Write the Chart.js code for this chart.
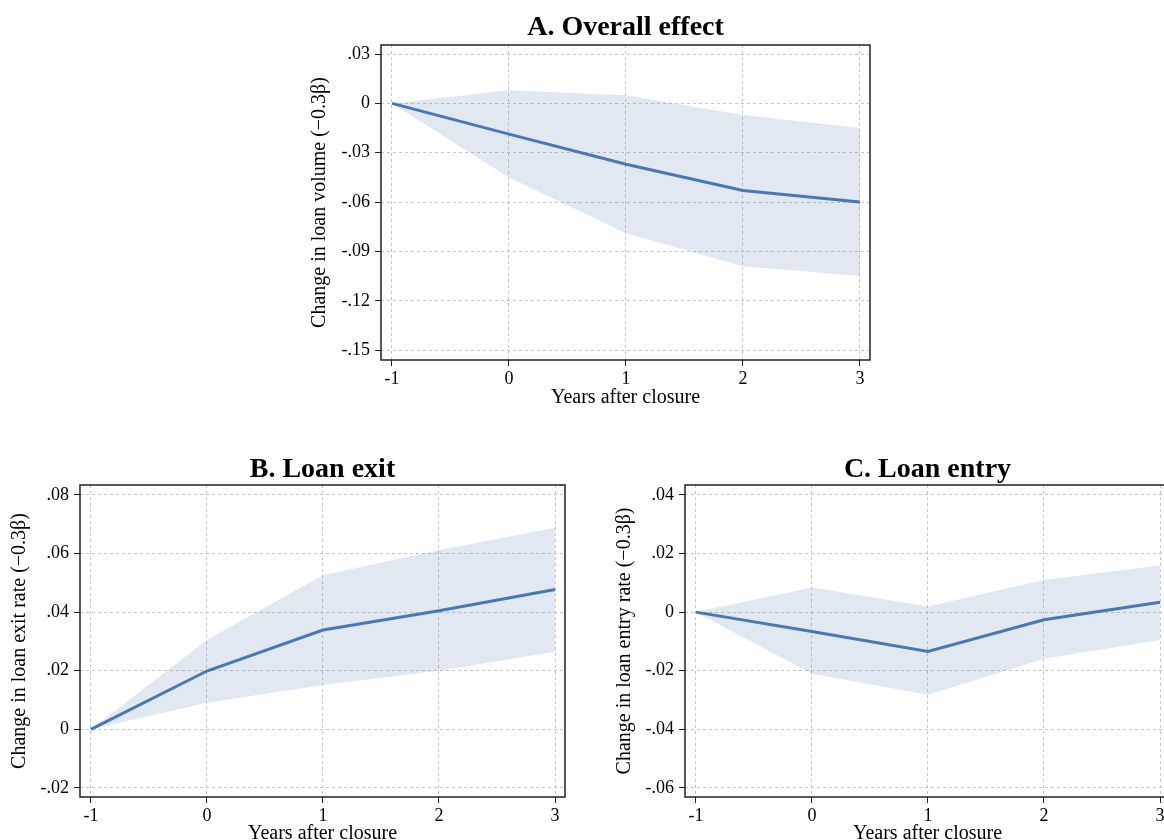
<!DOCTYPE html>
<html>
<head>
<meta charset="utf-8">
<script src="https://cdn.jsdelivr.net/npm/chart.js@4"></script>
<style>
  html, body { margin: 0; padding: 0; background: #fff; overflow: hidden; }
  body { width: 1164px; height: 840px; position: relative; }
  canvas { position: absolute; }
</style>
</head>
<body>
<canvas id="chart_a" width="580" height="410" style="left:300px;top:0px"></canvas>
<canvas id="chart_b" width="580" height="406" style="left:0px;top:440px"></canvas>
<canvas id="chart_c" width="580" height="406" style="left:600px;top:440px"></canvas>
<script>
// years relative to closure
const years = [-1, 0, 1, 2, 3];
const x_ticks = [-1, 0, 1, 2, 3];

// A. Overall effect
const a_est = [0, -0.0187, -0.037, -0.053, -0.060];
const a_upper = [0, 0.008, 0.005, -0.007, -0.015];
const a_lower = [0, -0.045, -0.079, -0.099, -0.105];
const a_y_ticks = [-0.15, -0.12, -0.09, -0.06, -0.03, 0, 0.03];
const a_y_labels = ['-.15', '-.12', '-.09', '-.06', '-.03', '0', '.03'];

// B. Loan exit
const b_est = [0, 0.0199, 0.0339, 0.0405, 0.0477];
const b_upper = [0, 0.0305, 0.0526, 0.0611, 0.0688];
const b_lower = [0, 0.0091, 0.0151, 0.020, 0.0265];
const b_y_ticks = [-0.02, 0, 0.02, 0.04, 0.06, 0.08];
const b_y_labels = ['-.02', '0', '.02', '.04', '.06', '.08'];

// C. Loan entry
const c_est = [0, -0.0066, -0.0134, -0.0026, 0.0034];
const c_upper = [0, 0.0084, 0.0019, 0.011, 0.0159];
const c_lower = [0, -0.021, -0.0282, -0.0159, -0.0095];
const c_y_ticks = [-0.06, -0.04, -0.02, 0, 0.02, 0.04];
const c_y_labels = ['-.06', '-.04', '-.02', '0', '.02', '.04'];

const serif = "'Liberation Serif', 'DejaVu Serif', serif";
const line_color = '#4a78b0';
const band_color = 'rgba(75,120,176,0.17)';

const frame = {
  id: 'frame',
  afterDraw(chart) {
    const {ctx, chartArea: ca} = chart;
    ctx.save();
    ctx.strokeStyle = '#222';
    ctx.lineWidth = 1.5;
    ctx.strokeRect(ca.left, ca.top, ca.right - ca.left, ca.bottom - ca.top);
    ctx.restore();
  }
};

function pts(vals) {
  return years.map((x, i) => ({x: x, y: vals[i]}));
}

function make_chart(id, o) {
  return new Chart(document.getElementById(id), {
    type: 'line',
    data: {
      datasets: [{
        data: pts(o.lower),
        borderWidth: 0,
        pointRadius: 0,
        fill: false
      }, {
        data: pts(o.upper),
        borderWidth: 0,
        pointRadius: 0,
        backgroundColor: band_color,
        fill: '-1'
      }, {
        data: pts(o.est),
        borderColor: line_color,
        borderWidth: 3,
        pointRadius: 0,
        fill: false
      }]
    },
    options: {
      responsive: false,
      animation: false,
      layout: {padding: o.pad},
      plugins: {
        legend: {display: false},
        tooltip: {enabled: false},
        title: {
          display: true,
          text: o.title,
          fullSize: false,
          color: '#000',
          font: {family: serif, size: 28, weight: 'bold', lineHeight: 1},
          padding: o.title_pad
        }
      },
      scales: {
        x: {
          type: 'linear',
          min: -1.094,
          max: 3.086,
          afterBuildTicks: s => { s.ticks = x_ticks.map(v => ({value: v})); },
          afterFit: s => { s.height = o.x_height; },
          ticks: {
            color: '#000',
            font: {family: serif, size: 18},
            padding: 2,
            maxRotation: 0,
            callback: v => String(v)
          },
          grid: {
            color: '#c6c6c6',
            tickColor: '#222',
            tickLength: 6,
            tickBorderDash: []
          },
          border: {display: false, dash: [3, 3]},
          title: {
            display: true,
            text: 'Years after closure',
            color: '#000',
            font: {family: serif, size: 20},
            padding: {top: 0, bottom: 0}
          }
        },
        y: {
          min: o.y_min,
          max: o.y_max,
          afterBuildTicks: s => { s.ticks = o.y_ticks.map(v => ({value: v})); },
          afterFit: s => { s.width = o.y_width; },
          ticks: {
            color: '#000',
            font: {family: serif, size: 18},
            padding: 5,
            callback: (v, i) => o.y_labels[i]
          },
          grid: {
            color: '#c6c6c6',
            tickColor: '#222',
            tickLength: 6,
            tickBorderDash: []
          },
          border: {display: false, dash: [3, 3]},
          title: {
            display: true,
            text: o.y_title,
            color: '#000',
            font: {family: serif, size: 20},
            padding: {top: o.y_title_pad, bottom: 0}
          }
        }
      }
    },
    plugins: [frame]
  });
}

const chart_a = make_chart('chart_a', {
  title: 'A. Overall effect',
  title_pad: {top: 14, bottom: 3},
  y_title: 'Change in loan volume (\u22120.3\u03B2)',
  y_title_pad: 8,
  est: a_est, upper: a_upper, lower: a_lower,
  y_ticks: a_y_ticks, y_labels: a_y_labels,
  y_min: -0.156, y_max: 0.0355,
  y_width: 81, x_height: 50,
  pad: {left: 0, right: 10, top: 0, bottom: 0}
});

const chart_b = make_chart('chart_b', {
  title: 'B. Loan exit',
  title_pad: {top: 16, bottom: 1},
  y_title: 'Change in loan exit rate (\u22120.3\u03B2)',
  y_title_pad: 8,
  est: b_est, upper: b_upper, lower: b_lower,
  y_ticks: b_y_ticks, y_labels: b_y_labels,
  y_min: -0.0231, y_max: 0.0834,
  y_width: 80, x_height: 49,
  pad: {left: 0, right: 15, top: 0, bottom: 0}
});

const chart_c = make_chart('chart_c', {
  title: 'C. Loan entry',
  title_pad: {top: 16, bottom: 1},
  y_title: 'Change in loan entry rate (\u22120.3\u03B2)',
  y_title_pad: 13,
  est: c_est, upper: c_upper, lower: c_lower,
  y_ticks: c_y_ticks, y_labels: c_y_labels,
  y_min: -0.0631, y_max: 0.0434,
  y_width: 85, x_height: 49,
  pad: {left: 0, right: 10, top: 0, bottom: 0}
});
</script>
</body>
</html>
